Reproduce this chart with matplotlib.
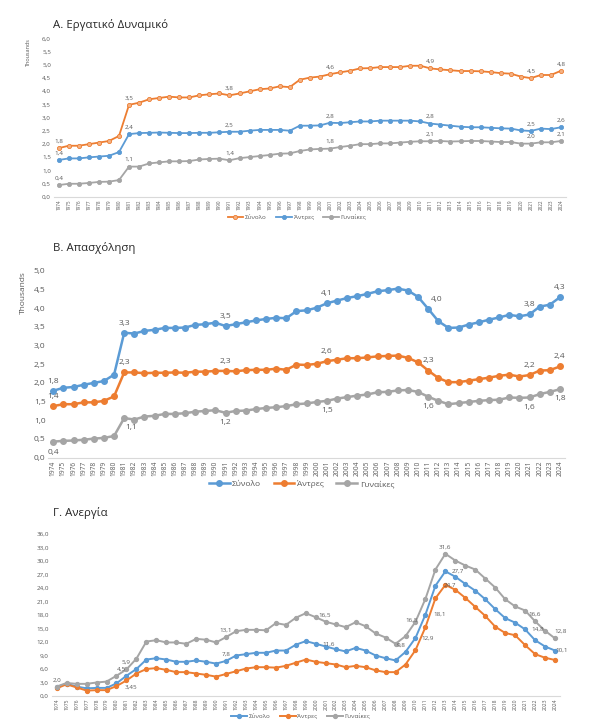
import matplotlib
matplotlib.use("Agg")
import matplotlib.pyplot as plt

plt.rcParams['font.family'] = ['Open Sans', 'DejaVu Sans']

years = list(range(1974, 2025))

# Panel A: labour force (thousands)
a_total = [1.84, 1.93, 1.93, 1.99, 2.05, 2.11, 2.30, 3.48, 3.56, 3.69, 3.74, 3.79, 3.76, 3.76, 3.84, 3.88,
           3.91, 3.84, 3.91, 3.99, 4.07, 4.10, 4.18, 4.15, 4.43, 4.51, 4.55, 4.64, 4.71, 4.77, 4.86, 4.87,
           4.91, 4.91, 4.91, 4.96, 4.96, 4.86, 4.82, 4.79, 4.76, 4.76, 4.75, 4.72, 4.68, 4.66, 4.55, 4.49,
           4.61, 4.61, 4.77]
a_men = [1.39, 1.45, 1.45, 1.49, 1.52, 1.55, 1.69, 2.37, 2.41, 2.42, 2.43, 2.42, 2.41, 2.41, 2.42, 2.42,
         2.44, 2.46, 2.46, 2.50, 2.53, 2.53, 2.53, 2.50, 2.69, 2.69, 2.70, 2.80, 2.79, 2.82, 2.85, 2.85,
         2.88, 2.88, 2.88, 2.88, 2.85, 2.77, 2.73, 2.69, 2.65, 2.63, 2.63, 2.61, 2.59, 2.58, 2.51, 2.49,
         2.58, 2.56, 2.63]
a_women = [0.44, 0.49, 0.49, 0.52, 0.56, 0.57, 0.63, 1.14, 1.14, 1.26, 1.30, 1.34, 1.34, 1.35, 1.41, 1.43,
           1.44, 1.38, 1.46, 1.50, 1.54, 1.58, 1.63, 1.64, 1.73, 1.79, 1.81, 1.82, 1.88, 1.93, 1.99, 1.99,
           2.02, 2.02, 2.05, 2.08, 2.10, 2.10, 2.11, 2.09, 2.10, 2.11, 2.11, 2.09, 2.07, 2.07, 2.01, 2.01,
           2.06, 2.06, 2.11]

# Panel B: employment (thousands)
b_total = [1.79, 1.87, 1.89, 1.95, 2.00, 2.05, 2.22, 3.34, 3.32, 3.39, 3.42, 3.47, 3.47, 3.48, 3.55, 3.57,
           3.61, 3.52, 3.57, 3.62, 3.67, 3.71, 3.74, 3.73, 3.92, 3.94, 4.01, 4.13, 4.20, 4.27, 4.32, 4.38,
           4.45, 4.48, 4.52, 4.47, 4.30, 3.98, 3.65, 3.47, 3.48, 3.56, 3.62, 3.69, 3.75, 3.82, 3.78, 3.83,
           4.04, 4.09, 4.29]
b_men = [1.38, 1.43, 1.43, 1.48, 1.48, 1.52, 1.64, 2.28, 2.28, 2.26, 2.27, 2.27, 2.28, 2.27, 2.30, 2.30,
         2.32, 2.32, 2.31, 2.34, 2.35, 2.35, 2.38, 2.35, 2.49, 2.48, 2.51, 2.58, 2.62, 2.66, 2.66, 2.68,
         2.71, 2.72, 2.73, 2.67, 2.55, 2.33, 2.13, 2.02, 2.02, 2.06, 2.10, 2.14, 2.19, 2.22, 2.17, 2.21,
         2.33, 2.34, 2.44]
b_women = [0.43, 0.45, 0.46, 0.48, 0.51, 0.53, 0.58, 1.06, 1.02, 1.10, 1.12, 1.17, 1.17, 1.19, 1.23, 1.25,
           1.27, 1.20, 1.25, 1.26, 1.30, 1.33, 1.35, 1.38, 1.43, 1.45, 1.49, 1.52, 1.58, 1.62, 1.66, 1.69,
           1.75, 1.76, 1.80, 1.81, 1.76, 1.63, 1.52, 1.43, 1.46, 1.49, 1.52, 1.54, 1.55, 1.61, 1.60, 1.61,
           1.70, 1.76, 1.83]

# Panel C: unemployment rate (%)
c_total = [2.0, 2.7, 2.1, 1.7, 1.8, 1.8, 2.8, 4.5, 6.0, 8.1, 8.4, 8.1, 7.6, 7.6, 7.9, 7.6,
           7.2, 7.8, 9.0, 9.3, 9.6, 9.6, 10.1, 10.1, 11.4, 12.2, 11.6, 11.0, 10.4, 9.9, 10.7, 10.1,
           9.0, 8.4, 7.9, 9.8, 12.9, 18.1, 24.5, 27.7, 26.5, 24.9, 23.4, 21.5, 19.3, 17.3, 16.3, 14.8,
           12.4, 11.0, 10.1]
c_men = [1.7, 2.6, 1.9, 1.2, 1.3, 1.3, 2.2, 3.45, 5.0, 6.0, 6.2, 5.8, 5.3, 5.3, 5.0, 4.7,
         4.3, 4.9, 5.5, 6.1, 6.4, 6.4, 6.3, 6.7, 7.4, 8.1, 7.6, 7.3, 7.0, 6.4, 6.7, 6.4,
         5.7, 5.3, 5.3, 7.0, 10.2, 15.3, 21.7, 24.7, 23.6, 21.8, 19.8, 17.8, 15.4, 14.0, 13.5, 11.3,
         9.3, 8.5, 8.0]
c_women = [2.1, 2.9, 2.7, 2.7, 3.0, 3.2, 4.5, 5.9, 8.3, 12.1, 12.4, 11.9, 11.9, 11.6, 12.7, 12.5,
           11.9, 13.1, 14.4, 14.7, 14.7, 14.6, 16.2, 15.8, 17.4, 18.4, 17.5, 16.5, 15.9, 15.3, 16.4, 15.5,
           13.9, 13.0, 11.6, 13.3, 16.5, 21.6, 28.1, 31.6, 30.1, 29.0, 28.1, 26.1, 24.1, 21.5, 19.9, 19.0,
           16.6, 14.5, 12.8]

series_names = ['Σύνολο', 'Άντρες', 'Γυναίκες']
BLUE, ORANGE, GREY = '#5B9BD5', '#ED7D31', '#A5A5A5'
TXT = '#595959'

W, H = 606, 724
fig = plt.figure(figsize=(W / 100, H / 100), dpi=100)


def rect(l, t, r, b):
    return [l / W, 1 - b / H, (r - l) / W, (b - t) / H]


def fmt(v, nd=1):
    return f"{v:.{nd}f}".replace('.', ',')


def style_axes(ax, ylim, ystep, ytick_fs, xtick_fs):
    ax.set_xlim(1973.5, 2024.5)
    ax.set_ylim(*ylim)
    n = int(round((ylim[1] - ylim[0]) / ystep))
    yt = [ylim[0] + i * ystep for i in range(n + 1)]
    ax.set_yticks(yt)
    ax.set_yticklabels([fmt(v) for v in yt], fontsize=ytick_fs, color=TXT)
    ax.set_xticks(years)
    ax.set_xticklabels([str(y) for y in years], rotation=90, fontsize=xtick_fs, color=TXT)
    for s in ['top', 'right', 'left']:
        ax.spines[s].set_visible(False)
    ax.spines['bottom'].set_color('#D9D9D9')
    ax.spines['bottom'].set_linewidth(0.8)
    ax.tick_params(length=0, pad=2)
    ax.patch.set_alpha(0)


def add_labels(ax, data, specs, fs):
    for idx, year, dx, dy, *rest in specs:
        nd = rest[0] if rest else 1
        v = data[idx][year - 1974]
        ax.annotate(fmt(v, nd), (year, v), xytext=(dx, dy), textcoords='offset points',
                    ha='center', va='center', fontsize=fs, color=TXT)


def add_legend(ax, center_px_y, top, bottom, fs, x=0.49):
    yfrac = -(center_px_y - bottom) / (bottom - top)
    ax.legend(loc='center', bbox_to_anchor=(x, yfrac), ncol=3, frameon=False, fontsize=fs,
              labelcolor=TXT, handlelength=2.5, columnspacing=1.5, handletextpad=0.3,
              borderpad=0.1)


# ---------------- Panel A ----------------
fig.text(53 / W, 1 - 25 / H, 'Α. Εργατικό Δυναμικό', fontsize=8.2, color='#262626', va='center', ha='left')
axA = fig.add_axes(rect(53.7, 38.3, 566, 196.7))
style_axes(axA, (0, 6), 0.5, 4.5, 3.3)
dataA = [a_total, a_men, a_women]
colA = [ORANGE, BLUE, GREY]
for d, c, nm in zip(dataA, colA, series_names):
    mfc = '#F4B183' if c == ORANGE else c
    axA.plot(years, d, color=c, lw=1.3, marker='o', ms=3.0, mfc=mfc, mec=c, mew=0.6, label=nm)
axA.text(-0.05, 1.0, 'Thousands', transform=axA.transAxes, rotation=90, fontsize=4, color=TXT,
         ha='center', va='top')
specsA = []
for i in range(3):
    for yr in [1974, 1981, 1991, 2001, 2011, 2021, 2024]:
        specsA.append((i, yr, 0, 5))
add_labels(axA, dataA, specsA, 4.5)
add_legend(axA, 217, 38.3, 196.7, 4.5, x=0.475)

# ---------------- Panel B ----------------
fig.text(53 / W, 1 - 248 / H, 'Β. Απασχόληση', fontsize=8.2, color='#262626', va='center', ha='left')
axB = fig.add_axes(rect(48.2, 270.7, 565, 457.7))
style_axes(axB, (0, 5), 0.5, 6, 4.8)
dataB = [b_total, b_men, b_women]
colB = [BLUE, ORANGE, GREY]
for d, c, nm in zip(dataB, colB, series_names):
    axB.plot(years, d, color=c, lw=1.8, marker='o', ms=4.0, label=nm)
axB.text(-0.048, 1.0, 'Thousands', transform=axB.transAxes, rotation=90, fontsize=6, color=TXT,
         ha='center', va='top')
specsB = []
for yr in [1974, 1981, 1991, 2001, 2011, 2021, 2024]:
    specsB.append((0, yr, 0, 7))
    specsB.append((1, yr, 0, 7))
specsB[8] = (0, 2011, 6, 7)
specsB += [(2, 1974, 0, -8), (2, 1981, 5, -7), (2, 1991, 0, -7), (2, 2001, 0, -7),
           (2, 2011, 0, -7), (2, 2021, 0, -7), (2, 2024, 0, -7)]
add_labels(axB, dataB, specsB, 6)
add_legend(axB, 484, 270.7, 457.7, 6, x=0.49)

# ---------------- Panel C ----------------
fig.text(53 / W, 1 - 513 / H, 'Γ. Ανεργία', fontsize=8.2, color='#262626', va='center', ha='left')
axC = fig.add_axes(rect(51.7, 534, 560, 696))
style_axes(axC, (0, 36), 3, 4.5, 3.6)
dataC = [c_total, c_men, c_women]
colC = [BLUE, ORANGE, GREY]
for d, c, nm in zip(dataC, colC, series_names):
    axC.plot(years, d, color=c, lw=1.4, marker='o', ms=2.8, label=nm)
specsC = [
    (0, 1974, 0, 5), (2, 1981, 0, 5), (0, 1981, -4, 5), (1, 1981, 3, -5, 2),
    (2, 1991, 0, 5), (0, 1991, 0, 5), (2, 2001, -1, 5), (0, 2000, 9, 0),
    (0, 2009, -3, 5), (2, 2010, -3, 1), (0, 2010, 9, 0), (0, 2011, 10, 0),
    (2, 2013, 0, 5), (0, 2013, 9, 0), (1, 2013, 3, 0),
    (2, 2022, 0, 5), (0, 2021, 9, 0), (2, 2024, 4, 5), (0, 2024, 5, 0),
]
add_labels(axC, dataC, specsC, 4.5)
add_legend(axC, 716.5, 534, 696, 4.5, x=0.49)

fig.savefig('out.png', dpi=100)
